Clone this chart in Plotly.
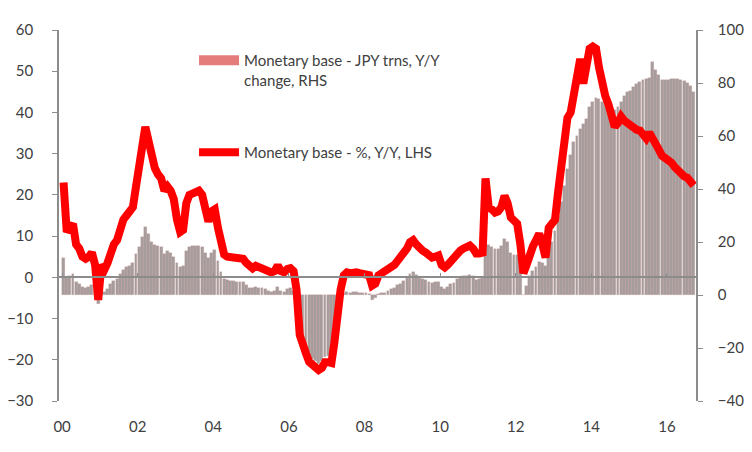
import pandas as pd
import plotly.graph_objects as go

# monthly, Jan 2000 .. Sep 2016
start_month = "2000-01"
n_months = 201

# Monetary base - %, Y/Y (LHS), one row per year
base_pct = [
    23, 11, 12, 13, 8, 7, 5, 4.5, 5, 6, 3, -5.5,
    3, 2, 3.5, 6, 8, 9, 12, 14, 15, 16, 17, 22,
    26, 32, 36.5, 33, 28, 26.5, 25, 24, 21, 22, 21, 19,
    14, 11, 11.5, 18, 20, 20.5, 20.5, 21, 20, 17, 13.5, 16,
    16.5, 12, 8, 5.5, 5, 4.8, 4.8, 4.5, 4.5, 4.5, 3.5, 2.5,
    2.2, 2.8, 2.5, 2.4, 2, 1.5, 1.2, 1.5, 2.9, 1.5, 1.2, 2,
    2.2, 1.5, -3, -14, -17, -18.5, -20.5, -21, -22, -22.5, -22, -20.6,
    -20.6, -20.8, -16, -7.5, -3, 0.5, 1.2, 1, 1.2, 1.2, 1, 0.8,
    0.8, 0.5, -2, -1.5, 0.5, 1, 1, 1.5, 2.5, 3, 4, 4.8,
    5.5, 7, 8.5, 9, 8, 7, 6.5, 6, 5, 4.8, 5, 5.3,
    3, 2.4, 3, 4, 4.5, 6, 6.5, 7, 7.3, 7.7, 7, 5.8,
    5.8, 6, 24, 17, 16.5, 15.7, 16, 17, 19.8, 18, 14.5, 13.5,
    13, 8, 1, 3, 5.8, 7.5, 9, 10.6, 8, 4.8, 12, 13,
    14, 21, 28, 35.6, 38.7, 40, 44.8, 48, 53, 47, 52, 55.5,
    56, 55.5, 51, 47, 44, 42, 38.5, 36.5, 37.5, 39, 38, 37.5,
    36.8, 36, 35.8, 35.6, 34.5, 33.7, 35.1, 34, 32.4, 31, 29.5, 29,
    28.5, 27.8, 26.8, 25.9, 25.3, 24.5, 24.2, 23.3, 22.3,
]

# Monetary base - JPY trns, Y/Y change (RHS)
base_trn = [
    14, 6.8, 7.3, 7.8, 4.8, 4.2, 3, 2.7, 3, 3.6, 1.8, -3.5,
    2, 1.3, 2.3, 4, 5.2, 6, 8, 9.5, 10.5, 11, 12, 15.5,
    18, 22, 25.5, 23, 20, 19, 18.5, 18, 15.5, 16.5, 16, 14.5,
    12, 10.5, 11, 16.5, 18, 18.5, 18.5, 18.5, 18, 16, 14, 16,
    17, 13, 8.5, 6, 5.5, 5.3, 5.3, 5, 5, 5, 3.8, 2.8,
    2.5, 3.1, 2.8, 2.7, 2.2, 1.7, 1.3, 1.7, 3.2, 1.7, 1.3, 2.2,
    2.5, 1.7, -3.4, -16, -19.5, -21, -23.5, -24, -25, -26, -25, -23.5,
    -23, -23, -17, -7, -2.8, 0.5, 1.1, 0.9, 1.1, 1.1, 0.9, 0.7,
    0.7, 0.5, -1.8, -1.3, 0.5, 0.9, 0.9, 1.4, 2.3, 2.7, 3.6, 4.3,
    5.2, 6.7, 8, 8.5, 7.6, 6.7, 6.2, 5.7, 4.8, 4.6, 4.8, 5,
    3, 2.4, 3, 4, 4.5, 6, 6.5, 7, 7.3, 7.7, 7, 5.8,
    6, 6.5, 25, 19, 18, 17.5, 17.5, 18.5, 21, 20, 16, 15,
    15, 9.5, 0, 3.4, 7, 9, 10.6, 12.5, 12, 11, 16, 20,
    24, 30, 35, 41, 47.5, 53, 57.7, 60, 62.6, 64.5, 66.4, 71,
    73, 74.5, 74, 73, 72, 69.5, 69, 70, 71, 73, 75, 76.5,
    77, 78.5, 79.6, 80.5, 81, 81.5, 82, 88, 85, 83, 81, 81,
    81, 81.5, 81.5, 81.5, 81, 80.8, 80, 79, 76.6,
]

dates = pd.date_range(start_month + "-01", periods=n_months, freq="MS") + pd.Timedelta(days=14)

FONT = "Lato"
TXT = "#404040"
AX = "#8c8c8c"
xrange = ["1999-12-02", "2016-10-08"]

fig = go.Figure()

# bars (RHS) on primary y so the red line overlays them
fig.add_trace(go.Bar(
    x=dates, y=base_trn, yaxis="y", showlegend=False,
    marker=dict(color="#a69e9e", line=dict(color="rgba(205,120,120,0.35)", width=0.5)),
))
# legend proxy for the bars
fig.add_trace(go.Scatter(
    x=[None], y=[None], mode="lines", yaxis="y",
    name="Monetary base - JPY trns, Y/Y<br>change, RHS",
    line=dict(color="#e47c7c", width=10), legend="legend",
))
fig.add_trace(go.Scatter(
    x=dates, y=base_pct, mode="lines", yaxis="y2",
    name="Monetary base - %, Y/Y, LHS",
    line=dict(color="#ff0000", width=8), legend="legend2",
))
# empty trace so the zero-line axis gets drawn
fig.add_trace(go.Scatter(x=[None], y=[None], xaxis="x2", yaxis="y2", showlegend=False))

fig.update_layout(
    width=752, height=452,
    margin=dict(l=51, r=64, t=22, b=59, autoexpand=False),
    paper_bgcolor="white", plot_bgcolor="white",
    font=dict(family=FONT, size=15, color=TXT),
    bargap=0,
    xaxis=dict(
        type="date", range=xrange, tick0="2000-01-01", dtick="M24", tickformat="%y",
        showgrid=False, zeroline=False, showline=False, ticks="", automargin=False,
        ticklabelstandoff=15, tickfont=dict(size=15, color=TXT),
    ),
    xaxis2=dict(
        type="date", range=xrange, overlaying="x", anchor="free", position=1 / 3,
        tick0="2000-01-01", dtick="M24", showticklabels=False, automargin=False,
        showgrid=False, zeroline=False, showline=True, linecolor=AX, linewidth=1.5,
        ticks="inside", ticklen=4, tickcolor=AX,
    ),
    yaxis=dict(
        side="right", range=[-40, 100], dtick=20, showgrid=False, zeroline=False,
        showline=True, linecolor=AX, linewidth=1.5, ticks="outside", ticklen=5, tickcolor=AX,
        ticklabelstandoff=12, tickfont=dict(size=15, color=TXT), automargin=False,
    ),
    yaxis2=dict(
        side="left", overlaying="y", range=[-30, 60], dtick=10, showgrid=False, zeroline=False,
        showline=True, linecolor=AX, linewidth=1.5, ticks="outside", ticklen=5, tickcolor=AX,
        ticklabelstandoff=16, tickfont=dict(size=15, color=TXT), automargin=False,
    ),
    legend=dict(
        x=0.212, y=0.962, xanchor="left", yanchor="top", bgcolor="rgba(0,0,0,0)",
        itemwidth=40, valign="top", font=dict(size=15, color=TXT),
    ),
    legend2=dict(
        x=0.212, y=0.714, xanchor="left", yanchor="top", bgcolor="rgba(0,0,0,0)",
        itemwidth=40, font=dict(size=15, color=TXT),
    ),
)

fig.write_html("out.html")
